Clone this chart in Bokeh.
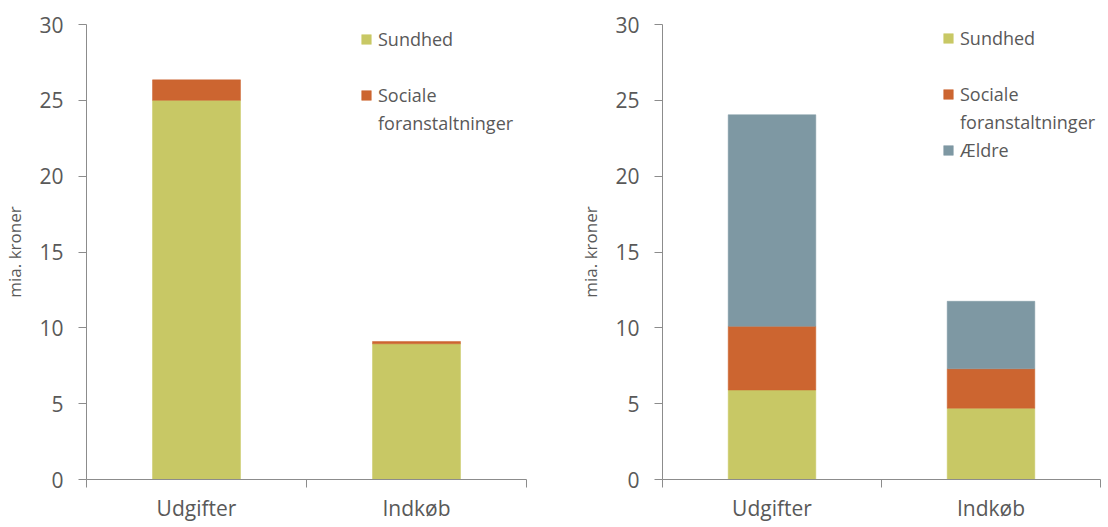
from bokeh.plotting import figure
from bokeh.layouts import row
from bokeh.models import (FixedTicker, Legend, LegendItem, ColumnDataSource,
                          Range1d)
from bokeh.embed import file_html
from bokeh.resources import INLINE

# ---- data ----
categories = ["Udgifter", "Indkøb"]
left_sundhed = [25.0, 8.95]
left_sociale = [1.35, 0.15]
right_sundhed = [5.9, 4.7]
right_sociale = [4.2, 2.6]
right_aeldre = [13.95, 4.45]
y_ticks = [0, 5, 10, 15, 20, 25, 30]
series_names = ["Sundhed", "Sociale", "Ældre"]
legend_second_line = ["", "foranstaltninger", None]
colors = ["#C8C865", "#CC6530", "#7E98A3"]
y_label = "mia. kroner"

FONT = "Open Sans"
TXT = "#595959"
AXIS = "#8C8C8C"


def make_fig(values, frame_width, border_left, border_right, leg_x, leg_y):
    n = len(categories)
    xs = [i + 0.5 for i in range(n)]
    data = {"x": xs}
    keys = []
    for i, v in enumerate(values):
        k = "s%d" % i
        data[k] = v
        keys.append(k)
    src = ColumnDataSource(data)

    p = figure(frame_width=frame_width, frame_height=455,
               min_border_left=border_left, min_border_right=border_right,
               min_border_top=24, min_border_bottom=39,
               x_range=Range1d(0, n), y_range=Range1d(0, 30),
               output_backend="svg", toolbar_location=None,
               background_fill_color="white", border_fill_color="white")
    p.outline_line_color = None
    p.grid.visible = False

    rs = p.vbar_stack(keys, x="x", width=0.4, source=src,
                      fill_color=colors[:len(keys)],
                      line_color=colors[:len(keys)], line_width=0.5)
    dummy = p.vbar(x=[], top=[], width=0.4, fill_alpha=0, line_alpha=0)

    # x axis
    xa = p.xaxis[0]
    xa.ticker = FixedTicker(ticks=xs, minor_ticks=list(range(n + 1)))
    xa.major_label_overrides = {x: c for x, c in zip(xs, categories)}
    xa.major_tick_line_color = None
    xa.major_tick_out = 0
    xa.major_tick_in = 0
    xa.minor_tick_out = 8
    xa.minor_tick_in = 0
    xa.minor_tick_line_color = AXIS
    xa.axis_line_color = AXIS
    xa.major_label_text_font = FONT
    xa.major_label_text_font_size = "21px"
    xa.major_label_text_color = TXT
    xa.major_label_standoff = 6

    # y axis
    ya = p.yaxis[0]
    ya.ticker = FixedTicker(ticks=y_ticks, minor_ticks=[])
    ya.major_tick_out = 8
    ya.major_tick_in = 0
    ya.major_tick_line_color = AXIS
    ya.axis_line_color = AXIS
    ya.major_label_text_font = FONT
    ya.major_label_text_font_size = "21px"
    ya.major_label_text_color = TXT
    ya.major_label_standoff = 15
    ya.axis_label = y_label
    ya.axis_label_text_font = FONT
    ya.axis_label_text_font_size = "17px"
    ya.axis_label_text_font_style = "normal"
    ya.axis_label_text_color = TXT
    ya.axis_label_standoff = 10

    items = []
    for i, r in enumerate(rs):
        items.append(LegendItem(label=series_names[i], renderers=[r]))
        second = legend_second_line[i]
        if second is not None:
            items.append(LegendItem(label=second if second else " ",
                                    renderers=[dummy]))
    leg = Legend(items=items, location=(leg_x, leg_y),
                 padding=0, spacing=0, margin=0,
                 glyph_width=12, glyph_height=12, label_height=28,
                 label_standoff=6,
                 label_text_font=FONT, label_text_font_size="18px",
                 label_text_color=TXT,
                 border_line_alpha=0, background_fill_alpha=0)
    p.add_layout(leg)
    return p


left = make_fig([left_sundhed, left_sociale], 440, 77, 30, 274, 342)
right = make_fig([right_sundhed, right_sociale, right_aeldre], 438, 106, 1,
                 280, 315)

layout = row(left, right, spacing=0)
open("out.html", "w").write(file_html(layout, INLINE))
